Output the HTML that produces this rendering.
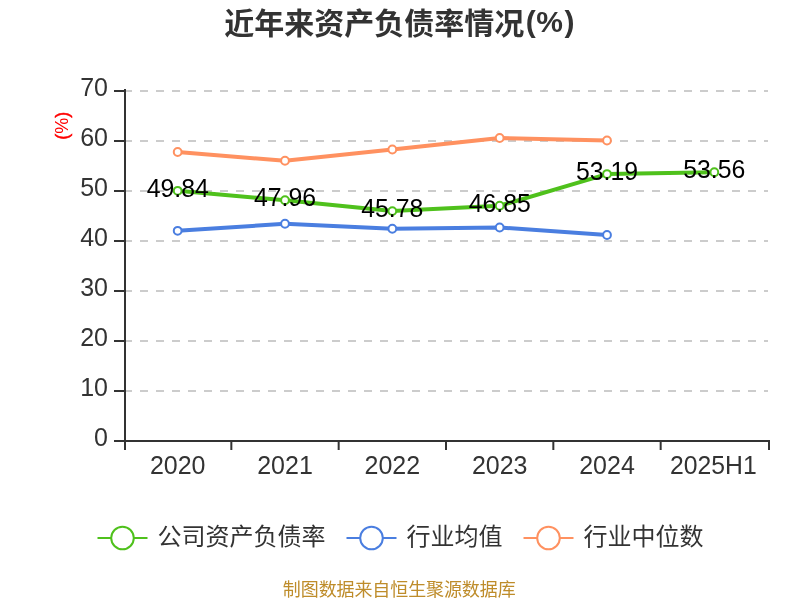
<!DOCTYPE html>
<html lang="zh-CN"><head><meta charset="utf-8"><title>近年来资产负债率情况(%)</title>
<style>
html,body{margin:0;padding:0;background:#fff;}
body{width:800px;height:600px;overflow:hidden;}
svg{display:block;will-change:transform;}
text{font-family:"Liberation Sans","Noto Sans CJK SC",sans-serif;}
.title{font-size:30px;font-weight:bold;fill:#333;}
.ax{font-size:25px;fill:#333;}
.lab{font-size:26px;fill:#000;}
.leg{font-size:24px;fill:#333;}
.unit{font-size:18px;fill:#ff0000;}
.pb{stroke:#ff0000;stroke-width:0.5px;}
.foot{font-size:18px;fill:#be8c2a;letter-spacing:-0.1px;}
</style></head><body>
<svg width="800" height="600" viewBox="0 0 800 600">
<rect width="800" height="600" fill="#fff"/>
<text class="title" x="224.2" y="33.6">近年来资产负债率情况<tspan x="525.7 536.3 564.5" y="32">(%)</tspan></text>
<g stroke="#ccc" stroke-width="2" stroke-dasharray="8 8" fill="none">
<path d="M124.0 391.0 H768.0"/>
<path d="M124.0 341.0 H768.0"/>
<path d="M124.0 291.0 H768.0"/>
<path d="M124.0 241.0 H768.0"/>
<path d="M124.0 191.0 H768.0"/>
<path d="M124.0 141.0 H768.0"/>
<path d="M124.0 91.0 H768.0"/>
</g>
<g stroke="#333" stroke-width="2" fill="none">
<path d="M125.0 89.0 V442.0"/>
<path d="M124.0 441.0 H770.0"/>
<path d="M114.0 441.0 H125.0"/>
<path d="M114.0 391.0 H125.0"/>
<path d="M114.0 341.0 H125.0"/>
<path d="M114.0 291.0 H125.0"/>
<path d="M114.0 241.0 H125.0"/>
<path d="M114.0 191.0 H125.0"/>
<path d="M114.0 141.0 H125.0"/>
<path d="M114.0 91.0 H125.0"/>
<path d="M125.00 441.0 V450.0"/>
<path d="M231.33 441.0 V450.0"/>
<path d="M338.67 441.0 V450.0"/>
<path d="M446.00 441.0 V450.0"/>
<path d="M553.33 441.0 V450.0"/>
<path d="M660.67 441.0 V450.0"/>
<path d="M769.00 441.0 V450.0"/>
</g>
<g class="ax">
<text x="108" y="445.7" text-anchor="end">0</text>
<text x="108" y="395.7" text-anchor="end">10</text>
<text x="108" y="345.7" text-anchor="end">20</text>
<text x="108" y="295.7" text-anchor="end">30</text>
<text x="108" y="245.7" text-anchor="end">40</text>
<text x="108" y="195.7" text-anchor="end">50</text>
<text x="108" y="145.7" text-anchor="end">60</text>
<text x="108" y="95.7" text-anchor="end">70</text>
<text x="177.7" y="474" text-anchor="middle">2020</text>
<text x="285.0" y="474" text-anchor="middle">2021</text>
<text x="392.3" y="474" text-anchor="middle">2022</text>
<text x="499.7" y="474" text-anchor="middle">2023</text>
<text x="607.0" y="474" text-anchor="middle">2024</text>
<text transform="translate(713.4 474) scale(0.99 1)" text-anchor="middle">2025H1</text>
</g>
<text class="unit" transform="translate(68 125.8) rotate(-90)" text-anchor="middle"><tspan class="pb">(</tspan>%<tspan class="pb">)</tspan></text>
<path d="M177.67 190.80 L285.00 200.20 L392.33 211.10 L499.67 205.75 L607.00 174.05 L714.33 172.20" fill="none" stroke="#4fc11c" stroke-width="4" stroke-linejoin="round" stroke-linecap="butt"/>
<g fill="#fff" stroke="#4fc11c" stroke-width="2">
<circle cx="177.67" cy="190.80" r="3.9"/>
<circle cx="285.00" cy="200.20" r="3.9"/>
<circle cx="392.33" cy="211.10" r="3.9"/>
<circle cx="499.67" cy="205.75" r="3.9"/>
<circle cx="607.00" cy="174.05" r="3.9"/>
<circle cx="714.33" cy="172.20" r="3.9"/>
</g>
<path d="M177.67 230.80 L285.00 223.75 L392.33 228.75 L499.67 227.50 L607.00 235.00" fill="none" stroke="#4a7ee0" stroke-width="4" stroke-linejoin="round" stroke-linecap="butt"/>
<g fill="#fff" stroke="#4a7ee0" stroke-width="2">
<circle cx="177.67" cy="230.80" r="3.9"/>
<circle cx="285.00" cy="223.75" r="3.9"/>
<circle cx="392.33" cy="228.75" r="3.9"/>
<circle cx="499.67" cy="227.50" r="3.9"/>
<circle cx="607.00" cy="235.00" r="3.9"/>
</g>
<path d="M177.67 152.00 L285.00 160.75 L392.33 149.50 L499.67 138.00 L607.00 140.50" fill="none" stroke="#ff9160" stroke-width="4" stroke-linejoin="round" stroke-linecap="butt"/>
<g fill="#fff" stroke="#ff9160" stroke-width="2">
<circle cx="177.67" cy="152.00" r="3.9"/>
<circle cx="285.00" cy="160.75" r="3.9"/>
<circle cx="392.33" cy="149.50" r="3.9"/>
<circle cx="499.67" cy="138.00" r="3.9"/>
<circle cx="607.00" cy="140.50" r="3.9"/>
</g>
<g class="lab" text-anchor="middle">
<text transform="translate(177.7 196.8) scale(0.955 1)">49.84</text>
<text transform="translate(285.0 206.2) scale(0.955 1)">47.96</text>
<text transform="translate(392.3 217.1) scale(0.955 1)">45.78</text>
<text transform="translate(499.7 211.8) scale(0.955 1)">46.85</text>
<text transform="translate(607.0 180.1) scale(0.955 1)">53.19</text>
<text transform="translate(714.3 178.2) scale(0.955 1)">53.56</text>
</g>
<g stroke="#4fc11c" stroke-width="2" fill="#fff"><path d="M97.5 538.0 H147.5"/><circle cx="122.5" cy="538.0" r="11.3"/></g>
<text class="leg" x="157.5" y="544.6">公司资产负债率</text>
<g stroke="#4a7ee0" stroke-width="2" fill="#fff"><path d="M346.5 538.0 H396.5"/><circle cx="371.5" cy="538.0" r="11.3"/></g>
<text class="leg" x="406.5" y="544.6">行业均值</text>
<g stroke="#ff9160" stroke-width="2" fill="#fff"><path d="M523.5 538.0 H573.5"/><circle cx="548.5" cy="538.0" r="11.3"/></g>
<text class="leg" x="583.5" y="544.6">行业中位数</text>
<text class="foot" x="399.2" y="596.4" text-anchor="middle">制图数据来自恒生聚源数据库</text>
</svg></body></html>
